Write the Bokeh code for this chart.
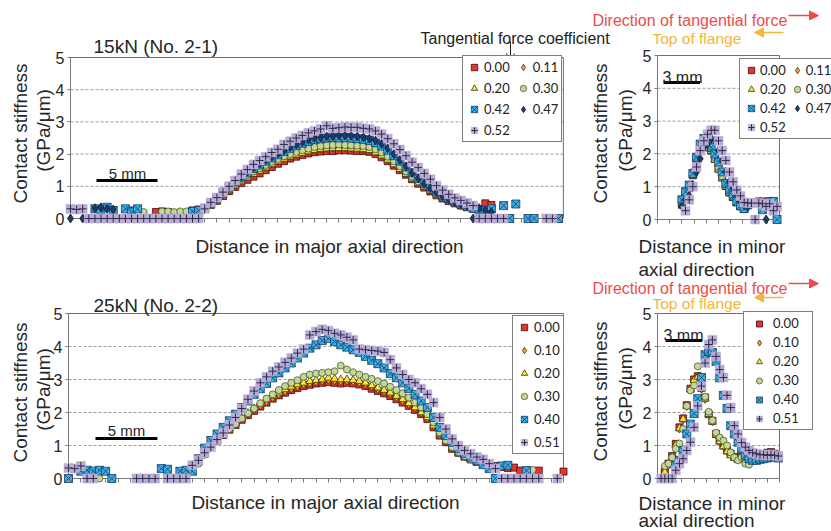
import math
from bokeh.plotting import figure
from bokeh.models import (Range1d, LinearAxis, FixedTicker, Label, Legend, LegendItem,
                          Arrow, NormalHead, OpenHead, ColumnDataSource)
from bokeh.core.properties import value
from bokeh.embed import file_html
from bokeh.resources import INLINE

N = float("nan")

# ---------------- data ----------------
x_major = [0.0, 0.5, 1.0, 1.5, 2.0, 2.5, 3.0, 3.5, 4.0, 4.5,
           5.0, 5.5, 6.0, 6.5, 7.0, 7.5, 8.0, 8.5, 9.0, 9.5,
           10.0, 10.5, 11.0, 11.5, 12.0, 12.5, 13.0, 13.5, 14.0, 14.5,
           15.0, 15.5, 16.0, 16.5, 17.0, 17.5, 18.0, 18.5, 19.0, 19.5,
           20.0, 20.5, 21.0, 21.5, 22.0, 22.5, 23.0, 23.5, 24.0, 24.5,
           25.0, 25.5, 26.0, 26.5, 27.0, 27.5, 28.0, 28.5, 29.0, 29.5,
           30.0, 30.5, 31.0, 31.5, 32.0, 32.5, 33.0, 33.5, 34.0, 34.5,
           35.0, 35.5, 36.0, 36.5, 37.0, 37.5, 38.0, 38.5, 39.0, 39.5,
           40.0]

labels_15 = ["0.00", "0.11", "0.20", "0.30", "0.42", "0.47", "0.52"]
labels_25 = ["0.00", "0.10", "0.20", "0.30", "0.40", "0.51"]

# 15 kN, major axial direction
tl_000 = [N, N, N, N, N, N, N, 0.25, N, N,
          0.25, N, N, N, 0.20, 0.22, 0.20, N, N, N,
          0.25, 0.28, 0.30, 0.42, 0.55, 0.70, 0.85, 0.98, 1.10, 1.20,
          1.30, 1.40, 1.50, 1.60, 1.70, 1.78, 1.86, 1.92, 1.97, 2.02,
          2.06, 2.08, 2.10, 2.10, 2.12, 2.12, 2.11, 2.10, 2.10, 2.07,
          2.00, 1.90, 1.78, 1.64, 1.50, 1.36, 1.22, 1.08, 0.96, 0.84,
          0.72, 0.62, 0.54, 0.47, 0.40, 0.35, 0.30, N, 0.47, 0.42,
          N, N, 0.00, N, N, N, N, N, N, N,
          0.00]
tl_011 = [N, N, N, N, N, N, N, N, N, 0.00,
          N, N, N, N, N, N, N, N, N, 0.00,
          N, 0.20, 0.28, 0.43, 0.57, 0.73, 0.88, 1.03, 1.16, 1.28,
          1.39, 1.49, 1.59, 1.69, 1.78, 1.86, 1.93, 1.99, 2.04, 2.09,
          2.13, 2.16, 2.18, 2.19, 2.20, 2.19, 2.18, 2.17, 2.15, 2.12,
          2.06, 1.96, 1.83, 1.69, 1.54, 1.39, 1.25, 1.11, 0.99, 0.87,
          0.76, 0.65, 0.56, 0.48, 0.41, 0.36, N, N, N, N,
          N, N, 0.00, N, N, N, N, N, N, N,
          N]
tl_020 = [N, N, N, N, N, N, N, N, N, N,
          N, N, N, 0.00, N, N, N, N, N, N,
          N, 0.00, 0.28, 0.42, 0.56, 0.72, 0.88, 1.02, 1.15, 1.27,
          1.38, 1.48, 1.58, 1.68, 1.77, 1.85, 1.92, 1.98, 2.03, 2.08,
          2.12, 2.15, 2.17, 2.18, 2.18, 2.18, 2.17, 2.16, 2.15, 2.12,
          2.05, 1.95, 1.82, 1.68, 1.53, 1.38, 1.24, 1.10, 0.98, 0.86,
          0.75, 0.64, 0.55, 0.48, 0.40, 0.35, N, N, N, N,
          N, N, N, N, N, N, N, N, N, N,
          N]
tl_030 = [N, N, N, N, N, N, 0.00, N, N, N,
          N, N, 0.20, N, 0.00, 0.22, 0.22, 0.20, 0.22, 0.22,
          0.20, 0.22, 0.28, 0.42, 0.58, 0.75, 0.92, 1.08, 1.22, 1.35,
          1.46, 1.56, 1.66, 1.76, 1.85, 1.93, 2.00, 2.07, 2.12, 2.17,
          2.22, 2.25, 2.27, 2.28, 2.30, 2.28, 2.27, 2.26, 2.25, 2.22,
          2.15, 2.05, 1.92, 1.78, 1.62, 1.46, 1.30, 1.15, 1.02, 0.90,
          0.78, 0.66, 0.57, 0.50, 0.42, 0.36, 0.30, N, N, N,
          N, N, N, N, N, N, N, N, N, N,
          N]
tl_042 = [N, N, N, N, 0.30, 0.22, 0.35, 0.25, 0.00, 0.30,
          0.20, 0.30, N, 0.00, N, N, 0.00, N, 0.00, 0.00,
          0.22, 0.25, 0.32, 0.48, 0.65, 0.82, 0.98, 1.15, 1.28, 1.42,
          1.55, 1.66, 1.78, 1.88, 1.98, 2.08, 2.18, 2.26, 2.34, 2.40,
          2.45, 2.48, 2.50, 2.52, 2.50, 2.52, 2.50, 2.48, 2.46, 2.42,
          2.35, 2.25, 2.12, 1.95, 1.78, 1.60, 1.42, 1.25, 1.10, 0.98,
          0.85, 0.72, 0.62, 0.52, 0.45, 0.38, 0.32, 0.28, 0.25, 0.30,
          N, 0.40, 0.00, 0.45, N, 0.00, 0.00, N, N, N,
          0.00]
tl_047 = [0.00, N, 0.00, N, 0.32, 0.35, 0.30, 0.28, N, 0.00,
          N, N, N, N, 0.00, 0.00, 0.00, 0.00, 0.00, 0.00,
          N, 0.00, 0.30, 0.45, 0.62, 0.80, 0.98, 1.15, 1.30, 1.45,
          1.58, 1.70, 1.82, 1.92, 2.02, 2.12, 2.22, 2.30, 2.38, 2.45,
          2.50, 2.52, 2.55, 2.56, 2.58, 2.58, 2.57, 2.55, 2.52, 2.48,
          2.42, 2.32, 2.18, 2.00, 1.82, 1.62, 1.42, 1.25, 1.08, 0.95,
          0.82, 0.70, 0.60, 0.52, 0.45, 0.40, 0.00, 0.32, 0.25, 0.20,
          N, N, N, N, N, N, N, N, N, N,
          N]
tl_052 = [0.30, 0.28, 0.30, 0.00, 0.00, 0.00, 0.00, 0.00, 0.00, 0.00,
          0.00, 0.00, 0.00, 0.00, 0.00, 0.00, 0.00, 0.00, 0.00, 0.00,
          0.00, 0.00, 0.30, 0.50, 0.65, 0.82, 1.00, 1.18, 1.38, 1.52,
          1.68, 1.80, 1.92, 2.05, 2.15, 2.30, 2.40, 2.50, 2.58, 2.66,
          2.72, 2.78, 2.88, 2.80, 2.82, 2.84, 2.83, 2.83, 2.80, 2.78,
          2.72, 2.62, 2.48, 2.32, 2.14, 1.95, 1.75, 1.58, 1.40, 1.22,
          1.02, 0.88, 0.75, 0.64, 0.56, 0.48, 0.40, 0.00, 0.00, 0.00,
          0.00, 0.00, N, N, N, N, N, N, 0.00, 0.00,
          N]

# 25 kN, major axial direction
bl_000 = [N, N, N, N, N, N, N, N, N, N,
          N, N, N, N, N, N, N, N, N, N,
          0.25, 0.50, 0.75, 0.95, 1.15, 1.32, 1.48, 1.62, 1.78, 1.92,
          2.05, 2.18, 2.30, 2.42, 2.52, 2.60, 2.68, 2.74, 2.80, 2.84,
          2.88, 2.90, 2.92, 2.90, 2.88, 2.90, 2.88, 2.85, 2.80, 2.72,
          2.65, 2.58, 2.50, 2.40, 2.30, 2.20, 2.08, 1.95, 1.80, 1.55,
          1.30, 1.10, 0.90, 0.78, 0.66, 0.58, 0.50, 0.45, 0.40, 0.38,
          0.35, 0.32, 0.33, 0.24, N, N, 0.24, N, N, N,
          0.21]
bl_010 = [N, N, N, N, N, N, N, N, N, N,
          N, N, N, N, N, N, N, N, N, N,
          N, 0.48, 0.74, 0.96, 1.16, 1.34, 1.50, 1.65, 1.80, 1.94,
          2.08, 2.20, 2.32, 2.44, 2.54, 2.63, 2.71, 2.78, 2.84, 2.88,
          2.92, 2.95, 2.98, 2.96, 2.94, 2.95, 2.93, 2.90, 2.85, 2.78,
          2.70, 2.63, 2.55, 2.45, 2.35, 2.24, 2.12, 1.98, 1.82, 1.58,
          1.32, 1.12, 0.92, 0.78, 0.66, 0.58, 0.50, 0.45, 0.40, 0.00,
          N, N, N, N, N, N, N, N, N, N,
          N]
bl_020 = [N, N, N, N, N, N, N, N, N, N,
          N, N, N, N, N, N, N, N, N, N,
          0.20, 0.50, 0.76, 0.98, 1.18, 1.36, 1.52, 1.68, 1.84, 1.98,
          2.12, 2.25, 2.38, 2.50, 2.60, 2.70, 2.78, 2.85, 2.90, 2.95,
          2.98, 3.00, 3.05, 3.02, 3.00, 3.00, 2.98, 2.95, 2.90, 2.82,
          2.75, 2.68, 2.60, 2.50, 2.40, 2.28, 2.15, 2.00, 1.85, 1.60,
          1.35, 1.14, 0.94, 0.80, 0.68, 0.58, 0.50, 0.45, 0.40, 0.35,
          0.00, N, N, N, N, N, N, N, N, N,
          N]
bl_030 = [N, N, N, N, N, 0.00, N, N, N, N,
          N, N, N, N, N, N, N, N, N, N,
          N, 0.45, 0.72, 0.95, 1.15, 1.35, 1.50, 1.65, 1.82, 1.98,
          2.12, 2.28, 2.42, 2.55, 2.68, 2.80, 2.90, 2.98, 3.08, 3.15,
          3.18, 3.20, 3.22, 3.25, 3.42, 3.30, 3.22, 3.15, 3.08, 3.02,
          2.95, 2.88, 2.78, 2.68, 2.58, 2.45, 2.30, 2.15, 1.95, 1.70,
          1.40, 1.15, 0.95, 0.80, 0.68, 0.58, 0.50, 0.44, 0.38, 0.00,
          N, N, 0.00, 0.00, 0.00, 0.26, N, N, N, N,
          N]
bl_040 = [0.00, N, 0.22, 0.25, 0.22, 0.25, 0.22, 0.00, N, N,
          N, 0.00, N, N, N, 0.30, 0.28, 0.00, 0.22, 0.25,
          0.22, 0.60, 0.92, 1.15, 1.35, 1.55, 1.75, 1.95, 2.15, 2.35,
          2.55, 2.72, 2.88, 3.05, 3.20, 3.35, 3.50, 3.65, 3.80, 3.95,
          4.05, 4.18, 4.24, 4.15, 4.05, 3.98, 3.90, 3.82, 3.70, 3.58,
          3.48, 3.35, 3.18, 3.05, 2.90, 2.73, 2.55, 2.35, 2.15, 1.85,
          1.55, 1.30, 1.10, 0.90, 0.76, 0.65, 0.55, 0.42, 0.30, 0.00,
          0.38, 0.40, 0.00, 0.00, 0.24, N, N, N, N, N,
          N]
bl_051 = [0.32, 0.30, 0.38, 0.00, 0.00, N, N, N, N, N,
          N, 0.00, 0.00, 0.00, 0.00, N, 0.00, 0.00, 0.00, 0.00,
          0.40, 0.55, 0.78, 0.95, 1.18, 1.38, 1.62, 1.85, 2.12, 2.40,
          2.65, 2.90, 3.08, 3.25, 3.38, 3.52, 3.65, 3.80, 3.92, 4.35,
          4.45, 4.52, 4.48, 4.40, 4.35, 4.28, 4.20, 3.92, 3.90, 3.88,
          3.86, 3.82, 3.60, 3.35, 3.15, 3.00, 2.90, 2.72, 2.55, 2.30,
          1.85, 1.50, 1.20, 1.00, 0.85, 0.75, 0.65, 0.58, 0.45, 0.30,
          0.00, 0.00, 0.00, 0.00, 0.00, 0.00, 0.00, N, N, 0.00,
          N]

# 15 kN, minor axial direction
x_tr = [2.0, 2.3, 2.6, 2.9, 3.2, 3.5, 3.8, 4.1, 4.4, 4.7, 5.0, 5.3, 5.6, 5.9,
        6.2, 6.5, 6.8, 7.1, 7.4, 7.7, 8.0, 8.3, 8.6, 8.9, 9.2, 9.5, 9.8]
tr_000 = [0.45, 0.70, 0.95, 1.35, 1.80, 2.15, 2.30, 2.20, 2.10, 1.85, 1.55, 1.28, 1.02, 0.82,
          0.68, 0.52, 0.40, 0.32, N, N, N, 0.55, 0.55, N, N, N, 0.37]
tr_011 = [0.48, 0.72, 0.98, 1.38, 1.85, 2.18, 2.32, 2.25, 2.12, 1.88, 1.58, 1.30, 1.05, 0.85,
          0.70, 0.55, 0.42, 0.35, N, N, N, N, 0.45, N, N, 0.40, N]
tr_020 = [0.50, 0.75, 1.00, 1.40, 1.88, 2.20, 2.30, 2.18, 2.08, 1.82, 1.52, 1.25, 1.00, 0.80,
          0.65, 0.50, 0.40, 0.33, N, N, N, N, N, N, N, N, 0.40]
tr_030 = [0.55, 0.78, 1.05, 1.45, 1.92, 2.25, 2.38, 2.28, 2.15, 1.90, 1.60, 1.32, 1.08, 0.88,
          0.72, 0.56, 0.44, 0.36, 0.40, N, N, N, N, 0.45, N, N, N]
tr_042 = [0.60, 0.85, 1.05, 1.40, 1.90, 2.30, 2.47, 2.35, 2.20, 2.00, 1.75, 1.45, 1.10, 0.90,
          0.72, 0.55, 0.42, 0.33, 0.45, N, N, N, 0.30, 0.45, 0.55, 0.55, 0.00]
tr_047 = [0.40, 0.60, 0.72, 1.05, 1.45, 1.85, 2.20, 2.30, 2.48, 2.40, 2.10, 1.80, 1.45, 1.15,
          0.95, 0.75, 0.55, 0.45, 0.40, N, N, N, N, 0.00, N, N, N]
tr_052 = [N, 0.27, 0.60, 1.00, 1.60, 2.10, 2.40, 2.60, 2.72, 2.72, 2.40, 2.10, 1.80, 1.45,
          1.15, 0.90, 0.72, 0.52, 0.50, 0.50, 0.00, 0.50, 0.48, 0.40, 0.48, 0.27, 0.40]

# 25 kN, minor axial direction
x_br = [0.3, 0.6, 0.9, 1.2, 1.5, 1.8, 2.1, 2.4, 2.7, 3.0, 3.3, 3.6, 3.9, 4.2, 4.5, 4.8, 5.1,
        5.4, 5.7, 6.0, 6.3, 6.6, 6.9, 7.2, 7.5, 7.8, 8.1, 8.4, 8.7, 9.0, 9.3, 9.6, 9.9]
br_000 = [N, 0.21, 0.45, 0.68, 1.05, 1.55, 1.82, 2.22, 2.72, 3.00, 3.10, 2.75, 2.45, 1.95, 1.75, 1.35, 1.15,
          1.00, 0.85, 0.75, 0.65, 0.60, 0.80, 0.62, 0.60, 0.62, 0.65, 0.70, 0.72, 0.78, 0.80, 0.75, 0.70]
br_010 = [N, 0.18, 0.40, 0.65, 1.00, 1.50, 1.78, 2.18, 2.68, 2.95, 3.05, 2.70, 2.40, 1.95, 1.72, 1.32, 1.12,
          0.98, 0.82, 0.72, 0.62, 0.58, 0.62, 0.60, 0.58, 0.60, 0.62, 0.66, 0.70, 0.72, 0.75, 0.72, 0.68]
br_020 = [N, 0.20, 0.42, 0.66, 1.02, 1.52, 1.80, 2.20, 2.70, 2.98, 3.08, 2.72, 2.42, 1.95, 1.72, 1.33, 1.12,
          0.97, 0.82, 0.70, 0.62, 0.56, 0.60, 0.58, 0.55, 0.58, 0.60, 0.64, 0.66, 0.70, 0.72, 0.70, 0.66]
br_030 = [N, 0.38, 0.45, 0.64, 0.90, 1.06, 1.50, 2.20, 2.67, 2.82, 3.40, 2.90, 2.48, 2.02, 1.76, 1.39, 1.24,
          1.15, 1.00, 0.79, 0.64, 0.55, 0.64, 0.45, 0.42, 0.55, 0.60, 0.60, 0.64, 0.64, 0.64, 0.64, 0.62]
br_040 = [N, 0.00, 0.00, N, 0.40, 0.55, 0.85, 1.35, 1.65, 1.97, 2.42, 3.06, 3.75, 3.85, 3.82, 3.55, 3.05,
          2.52, 2.12, 1.60, 1.35, 1.10, 0.90, 0.70, 0.60, 0.55, 0.55, 0.58, 0.60, 0.62, 0.65, 0.65, 0.62]
br_051 = [0.00, 0.00, 0.00, 0.00, 0.25, 0.45, 0.60, 0.85, 1.10, 1.55, 2.20, 2.80, 3.50, 4.06, 4.20, 3.70, 3.30,
          3.06, 2.52, 2.15, 1.60, 1.35, 1.09, 0.95, 0.85, 0.78, 0.75, 0.72, 0.72, 0.70, 0.72, 0.70, 0.68]

y_ticks = [0, 1, 2, 3, 4, 5]
grid_levels = [1, 2, 3, 4]

# ---------------- styling ----------------
FONT = "Liberation Sans"
TXT = "#262626"
LAV = "#b9acd6"
STYLES = [
    dict(marker="square", size=7, fill_color="#e8322c", line_color="#3a0d0d", line_width=0.8),
    dict(marker="diamond", size=8, fill_color="#f4a82e", line_color="#3a2c0a", line_width=0.8),
    dict(marker="triangle", size=8, fill_color="#ffe335", line_color="#3a3a10", line_width=0.8),
    dict(marker="circle", size=7, fill_color="#c4d79b", line_color="#4a5a2a", line_width=0.8),
    dict(marker="square_x", size=8, fill_color="#33b3e6", line_color="#1f3864", line_width=0.8),
    dict(marker="diamond", size=9, fill_color="#1f3864", line_color="#14213d", line_width=0.8),
    None,  # purple plus: drawn as lavender square + dark cross
]

CX0, CX1, CY0, CY1 = 0, 831, 0, 531  # canvas extent in picture pixels

PANELS = {
    "tl": dict(ox=70, oy=218, sx=12.2, sy=32.2, xmax=40.4, xt=list(range(0, 41))),
    "tr": dict(ox=657, oy=219, sx=12.2, sy=32.8, xmax=10.0, xt=list(range(0, 11))),
    "bl": dict(ox=68, oy=478, sx=12.375, sy=33.0, xmax=40.0, xt=list(range(0, 41))),
    "br": dict(ox=657, oy=478, sx=12.2, sy=33.0, xmax=10.0, xt=list(range(0, 11))),
}

p = figure(width=CX1 - CX0, height=CY1 - CY0, x_range=Range1d(CX0, CX1), y_range=Range1d(CY1, CY0),
           output_backend="svg", toolbar_location=None, x_axis_type=None, y_axis_type=None,
           min_border=0)
p.outline_line_color = None
p.background_fill_color = "white"
p.border_fill_color = "white"

exr, eyr = {}, {}
for k, g in PANELS.items():
    exr[k + "_x"] = Range1d((CX0 - g["ox"]) / g["sx"], (CX1 - g["ox"]) / g["sx"])
    eyr[k + "_y"] = Range1d((g["oy"] - CY1) / g["sy"], (g["oy"] - CY0) / g["sy"])
p.extra_x_ranges = exr
p.extra_y_ranges = eyr


def draw_panel(k, xs, series, labels, style_ids, legend_loc, ncols, lg):
    g = PANELS[k]
    rn = dict(x_range_name=k + "_x", y_range_name=k + "_y")
    xmax = g["xmax"]
    # dashed horizontal gridlines
    p.segment(x0=[0] * len(grid_levels), x1=[xmax] * len(grid_levels), y0=grid_levels, y1=grid_levels,
              line_color="#9a9a9a", line_dash="3 2", line_width=1, **rn)
    # top and right border of the plot area
    p.segment(x0=[0, xmax], y0=[y_ticks[-1], 0], x1=[xmax, xmax], y1=[y_ticks[-1], y_ticks[-1]],
              line_color="#6e6e6e", line_width=1, **rn)
    # axes
    yax = LinearAxis(fixed_location=0, ticker=FixedTicker(ticks=y_ticks), bounds=(0, y_ticks[-1]),
                     major_tick_out=3, major_tick_in=0, minor_tick_out=0, minor_tick_in=0,
                     axis_line_color="#7a7a7a", major_tick_line_color="#7a7a7a",
                     major_label_text_font_size="16px", major_label_text_font=FONT,
                     major_label_text_color=TXT, major_label_standoff=3, **rn)
    yax.level = "underlay"
    p.add_layout(yax, "left")
    xax = LinearAxis(fixed_location=0, ticker=FixedTicker(ticks=g["xt"]), bounds=(0, xmax),
                     major_tick_out=4, major_tick_in=0, minor_tick_out=0, minor_tick_in=0,
                     axis_line_color="#7a7a7a", major_tick_line_color="#7a7a7a",
                     major_label_text_font_size="1px", major_label_standoff=0,
                     major_label_overrides={t: "" for t in g["xt"]}, **rn)
    xax.level = "underlay"
    p.add_layout(xax, "below")
    items = []
    for ys, lab, si in zip(series, labels, style_ids):
        src = ColumnDataSource(dict(x=xs, y=ys))
        if STYLES[si] is None:
            r1 = p.scatter("x", "y", source=src, marker="square", size=9, fill_color=LAV,
                           line_color=LAV, line_width=0.5, **rn)
            r2 = p.scatter("x", "y", source=src, marker="cross", size=8, line_color="#2e2a48",
                           line_width=1, **rn)
            rs = [r1, r2]
        else:
            rs = [p.scatter("x", "y", source=src, **STYLES[si], **rn)]
        items.append(LegendItem(label=value(lab), renderers=rs))
    leg = Legend(items=items, location=legend_loc, ncols=ncols,
                 orientation="horizontal" if ncols > 1 else "vertical",
                 border_line_color="black", border_line_width=1, background_fill_color="white",
                 background_fill_alpha=1.0, margin=0, padding=lg.get("padding", 3),
                 spacing=lg["spacing"], glyph_width=lg.get("gw", 16), glyph_height=lg.get("gh", 16),
                 label_height=lg.get("gh", 16), label_width=lg.get("lw", 20),
                 label_standoff=lg.get("so", 2),
                 label_text_font_size="13px", label_text_font="Lato", label_text_color="#222222")
    p.add_layout(leg)


draw_panel("tl", x_major, [tl_000, tl_011, tl_020, tl_030, tl_042, tl_047, tl_052], labels_15,
           [0, 1, 2, 3, 4, 5, 6], (462, 389), 2, dict(spacing=5))
draw_panel("tr", x_tr, [tr_000, tr_011, tr_020, tr_030, tr_042, tr_047, tr_052], labels_15,
           [0, 1, 2, 3, 4, 5, 6], (739, 392), 2, dict(spacing=3, so=1))
draw_panel("bl", x_major, [bl_000, bl_010, bl_020, bl_030, bl_040, bl_051], labels_25,
           [0, 1, 2, 3, 4, 6], (512, 77), 1, dict(spacing=7))
draw_panel("br", x_br, [br_000, br_010, br_020, br_030, br_040, br_051], labels_25,
           [0, 1, 2, 3, 4, 6], (743, 101), 1, dict(spacing=3, gh=15, gw=24, lw=36))

# scale bars (length in mm)
SCALEBARS = {"tl": (2.13, 1.18, 5), "bl": (2.18, 1.21, 5), "tr": (0.49, 4.18, 3), "br": (0.66, 4.18, 3)}
for k, (bx, by, blen) in SCALEBARS.items():
    p.segment(x0=[bx], y0=[by], x1=[bx + blen], y1=[by], line_color="black", line_width=3,
              x_range_name=k + "_x", y_range_name=k + "_y")


def lab(x, y, text, size="19px", color=TXT, align="left", baseline="alphabetic", angle=0.0):
    p.add_layout(Label(x=x, y=y, text=text, text_font=FONT, text_font_size=size, text_color=color,
                       text_align=align, text_baseline=baseline, angle=angle))


# panel titles
lab(93, 46, "15kN (No. 2-1)")
lab(93, 305, "25kN (No. 2-2)")
# scale bar labels
lab(127, 173, "5 mm", size="15px", align="center")
lab(126, 430, "5 mm", size="15px", align="center")
lab(682, 77, "3 mm", size="16px", align="center")
lab(683, 335, "3 mm", size="16px", align="center")
# x axis titles
lab(329, 246, "Distance in major axial direction", align="center")
lab(325, 502, "Distance in major axial direction", align="center")
lab(638, 246, "Distance in minor")
lab(638, 269, "axial direction")
lab(638, 503, "Distance in minor")
lab(638, 520, "axial direction")
# y axis titles
for cx1, cx2, cy in [(20, 43, 133), (600, 625, 133), (20, 43, 392), (600, 625, 391)]:
    lab(cx1, cy, "Contact stiffness", align="center", baseline="middle", angle=math.pi / 2)
    lab(cx2, cy - 3, "(GPa/μm)", align="center", baseline="middle", angle=math.pi / 2)

# header annotations
RED = "#ef4b4b"
GOLD = "#f5b43a"
lab(420, 38, "Tangential force coefficient", size="16px", color="#222222")
p.add_layout(Arrow(x_start=510, y_start=41, x_end=510, y_end=61, line_color="#222222", line_width=1,
                   end=OpenHead(size=8, line_color="#222222", line_width=1)))
for base in (20, 288):
    lab(592, base, "Direction of tangential force", size="16px", color=RED)
    p.add_layout(Arrow(x_start=788, y_start=base - 5, x_end=818, y_end=base - 5, line_color=RED,
                       line_width=1.5, end=NormalHead(size=9, fill_color=RED, line_color=RED)))
for base in (38, 303):
    lab(652, base, "Top of flange", size="15.5px", color=GOLD)
    p.add_layout(Arrow(x_start=783, y_start=base - 6, x_end=754, y_end=base - 6, line_color=GOLD,
                       line_width=1.5, end=NormalHead(size=9, fill_color=GOLD, line_color=GOLD)))

open("out.html", "w").write(file_html(p, INLINE))
